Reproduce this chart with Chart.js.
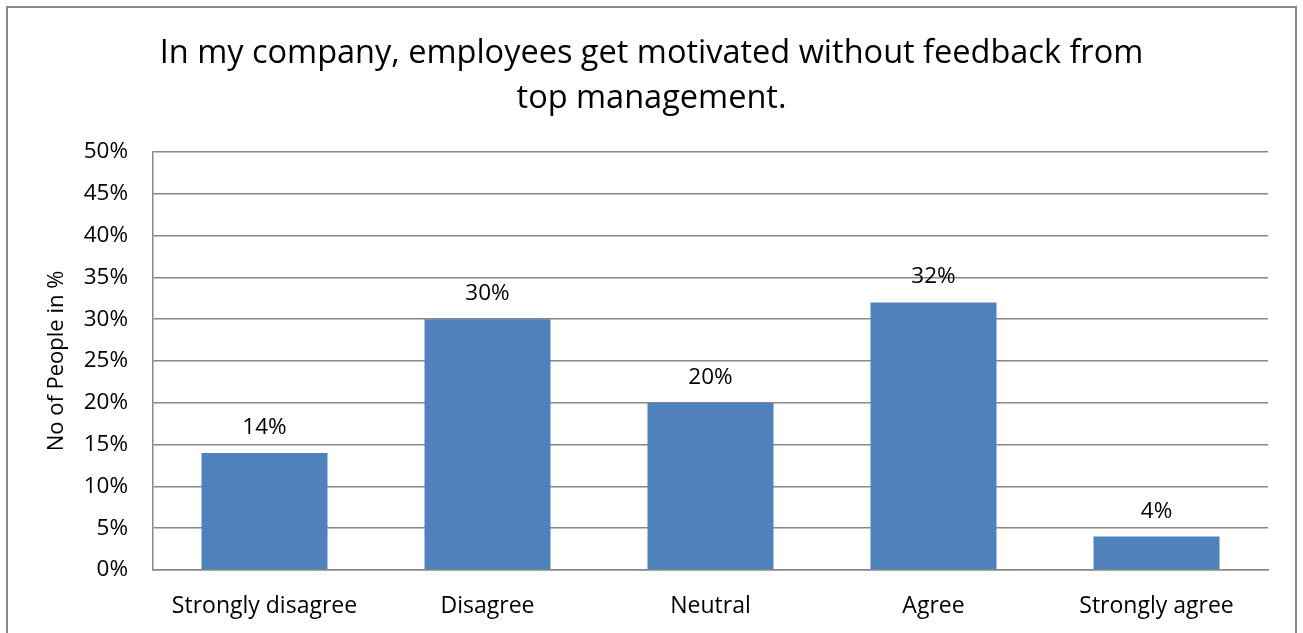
<!DOCTYPE html>
<html>
<head>
<meta charset="utf-8">
<title>Motivation without feedback</title>
<script src="https://cdn.jsdelivr.net/npm/chart.js@4.4.1/dist/chart.umd.min.js"></script>
<style>
  html, body { margin: 0; padding: 0; background: #fff; overflow: hidden; }
  #wrap { position: relative; width: 1303px; height: 633px; }
  #frame {
    position: absolute; left: 6px; top: 6px; width: 1287px; height: 700px;
    border: 2px solid #888; pointer-events: none;
  }
</style>
</head>
<body>
<div id="wrap">
  <canvas id="surveyChart" width="1303" height="633"></canvas>
  <div id="frame"></div>
</div>
<script>
// survey answers, share of people in %
const categories = ["Strongly disagree", "Disagree", "Neutral", "Agree", "Strongly agree"];
const shares = [14, 30, 20, 32, 4];
const yMax = 50;
const yStep = 5;
const titleLines = ["In my company, employees get motivated without feedback from", "top management."];
const yTitle = "No of People in %";

const FONT = "'Open Sans', 'Liberation Sans', sans-serif";

// 2-line chart title, centred over the whole canvas
const titlePlugin = {
  id: "topTitle",
  afterDraw(chart) {
    const ctx = chart.ctx;
    ctx.save();
    ctx.fillStyle = "#000";
    ctx.font = "32.5px " + FONT;
    ctx.textAlign = "center";
    ctx.textBaseline = "alphabetic";
    titleLines.forEach(function (line, i) {
      ctx.fillText(line, chart.width / 2, 63 + i * 45);
    });
    ctx.restore();
  },
};

// value above each bar
const valueLabels = {
  id: "valueLabels",
  afterDatasetsDraw(chart) {
    const ctx = chart.ctx;
    const meta = chart.getDatasetMeta(0);
    ctx.save();
    ctx.fillStyle = "#000";
    ctx.font = "22.5px " + FONT;
    ctx.textAlign = "center";
    ctx.textBaseline = "alphabetic";
    meta.data.forEach(function (bar, i) {
      ctx.fillText(shares[i] + "%", bar.x, bar.y - 19);
    });
    ctx.restore();
  },
};

const ctx = document.getElementById("surveyChart").getContext("2d");
new Chart(ctx, {
  type: "bar",
  data: {
    labels: categories,
    datasets: [
      {
        label: yTitle,
        data: shares,
        backgroundColor: "#4F81BD",
        borderWidth: 0,
        categoryPercentage: 1,
        barPercentage: 0.565,
      },
    ],
  },
  options: {
    responsive: false,
    animation: false,
    layout: { padding: { top: 152, right: 35, bottom: 0, left: 0 } },
    plugins: {
      legend: { display: false },
      tooltip: { enabled: false },
      title: { display: false },
    },
    scales: {
      x: {
        grid: { display: false, drawTicks: false },
        border: { display: true, color: "#888", width: 1.5 },
        ticks: { color: "#000", font: { family: FONT, size: 23 }, padding: 23, maxRotation: 0 },
        afterFit(scale) {
          scale.height = 63;
        },
      },
      y: {
        min: 0,
        max: yMax,
        grid: { color: "#888", lineWidth: 1.5, drawTicks: false, tickLength: 0 },
        border: { display: true, color: "#888", width: 1.5 },
        ticks: {
          stepSize: yStep,
          color: "#000",
          font: { family: FONT, size: 22.5 },
          padding: 25,
          callback: function (v) {
            return v + "%";
          },
        },
        title: {
          display: true,
          text: yTitle,
          color: "#000",
          font: { family: FONT, size: 22 },
          padding: { top: 44, bottom: 0 },
        },
        afterFit(scale) {
          scale.width = 153;
        },
      },
    },
  },
  plugins: [titlePlugin, valueLabels],
});
</script>
</body>
</html>
